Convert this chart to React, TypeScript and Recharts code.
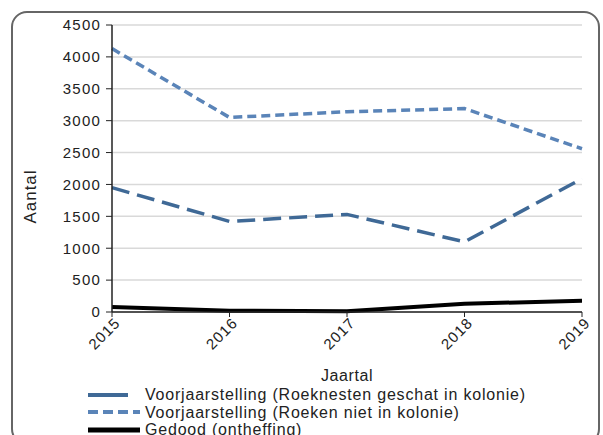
import React from 'react';
import { LineChart, Line, XAxis, YAxis, CartesianGrid, Legend } from 'recharts';

const years = ['2015', '2016', '2017', '2018', '2019'];
const nestsInColony = [1950, 1420, 1530, 1100, 2090];
const rooksNotInColony = [4130, 3050, 3140, 3190, 2560];
const killed = [80, 20, 10, 130, 175];
const yTicks = [0, 500, 1000, 1500, 2000, 2500, 3000, 3500, 4000, 4500];

const seriesNames = [
  'Voorjaarstelling (Roeknesten geschat in kolonie)',
  'Voorjaarstelling (Roeken niet in kolonie)',
  'Gedood (ontheffing)',
];

const data = years.map((y, i) => ({
  year: y,
  s1: nestsInColony[i],
  s2: rooksNotInColony[i],
  s3: killed[i],
}));

const FONT = '"Liberation Sans", Arial, sans-serif';

const XTick = (props: any) => {
  const { x, y, payload } = props;
  return (
    <text
      x={x}
      y={y}
      transform={`rotate(-45, ${x}, ${y})`}
      textAnchor="end"
      dy={10}
      dx={3}
      fontSize={15}
      letterSpacing={1}
      fill="#222"
      fontFamily={FONT}
    >
      {payload.value}
    </text>
  );
};

const LegendContent = (props: any) => {
  const payload = [...(props.payload || [])].sort(
    (a: any, b: any) => seriesNames.indexOf(a.value) - seriesNames.indexOf(b.value)
  );
  return (
    <div style={{ fontFamily: FONT, fontSize: 16, letterSpacing: '0.8px', color: '#222', lineHeight: '17.5px' }}>
      {payload.map((p: any, i: number) => (
        <div key={i} style={{ display: 'flex', alignItems: 'center', height: 17.5 }}>
          <svg width={56} height={10} style={{ marginRight: 3 }}>
            <line
              x1={2}
              y1={5}
              x2={i === 0 ? 42 : 54}
              y2={5}
              stroke={p.color}
              strokeWidth={i === 2 ? 5 : 4}
              strokeDasharray={i === 1 ? '10 5' : undefined}
            />
          </svg>
          <span>{p.value}</span>
        </div>
      ))}
    </div>
  );
};

export default function App() {
  return (
    <div style={{ position: 'absolute', left: 0, top: 0, width: 603, height: 435, overflow: 'hidden', background: '#fff' }}>
      <div
        style={{
          position: 'absolute',
          left: 11,
          top: 11,
          width: 585,
          height: 430,
          border: '2px solid #666',
          borderRadius: 16,
        }}
      />
      <LineChart
        width={603}
        height={435}
        data={data}
        margin={{ top: 25, right: 21, left: 0, bottom: 0 }}
        style={{ position: 'absolute', left: 0, top: 0 }}
      >
        <CartesianGrid vertical={false} stroke="#d9d9d9" strokeWidth={1.5} />
        <XAxis
          dataKey="year"
          height={123}
          tick={<XTick />}
          tickLine={{ stroke: '#222' }}
          axisLine={{ stroke: '#222', strokeWidth: 1.5 }}
          tickSize={5}
          interval={0}
          padding={{ left: 0, right: 0 }}
          label={{ value: 'Jaartal', position: 'insideTop', offset: 58, fontSize: 16, letterSpacing: 0.6, fill: '#222', fontFamily: FONT }}
        />
        <YAxis
          width={112}
          domain={[0, 4500]}
          ticks={yTicks}
          interval={0}
          tick={{ fontSize: 15, letterSpacing: 1.2, fill: '#222', fontFamily: FONT }}
          tickLine={{ stroke: '#222' }}
          axisLine={{ stroke: '#222', strokeWidth: 1.5 }}
          tickSize={6}
          tickMargin={5}
          label={{
            content: (lp: any) => {
              const vb = lp.viewBox;
              const cx = vb.x + 30;
              const cy = vb.y + vb.height / 2 + 28;
              return (
                <text
                  x={cx}
                  y={cy}
                  transform={`rotate(-90, ${cx}, ${cy})`}
                  textAnchor="middle"
                  dominantBaseline="central"
                  fontSize={17}
                  letterSpacing={1}
                  fill="#222"
                  fontFamily={FONT}
                >
                  Aantal
                </text>
              );
            },
          }}
        />
        <Legend
          content={<LegendContent />}
          layout="horizontal"
          verticalAlign="middle"
          align="center"
          wrapperStyle={{ position: 'absolute', left: 86, top: 386, width: 520 }}
        />
        <Line
          dataKey="s1"
          name={seriesNames[0]}
          stroke="#3f6996"
          strokeWidth={3.5}
          strokeDasharray="18 8"
          dot={false}
          isAnimationActive={false}
        />
        <Line
          dataKey="s2"
          name={seriesNames[1]}
          stroke="#5a84b8"
          strokeWidth={3.5}
          strokeDasharray="9 5"
          dot={false}
          isAnimationActive={false}
        />
        <Line
          dataKey="s3"
          name={seriesNames[2]}
          stroke="#000"
          strokeWidth={4}
          dot={false}
          isAnimationActive={false}
        />
      </LineChart>
    </div>
  );
}
